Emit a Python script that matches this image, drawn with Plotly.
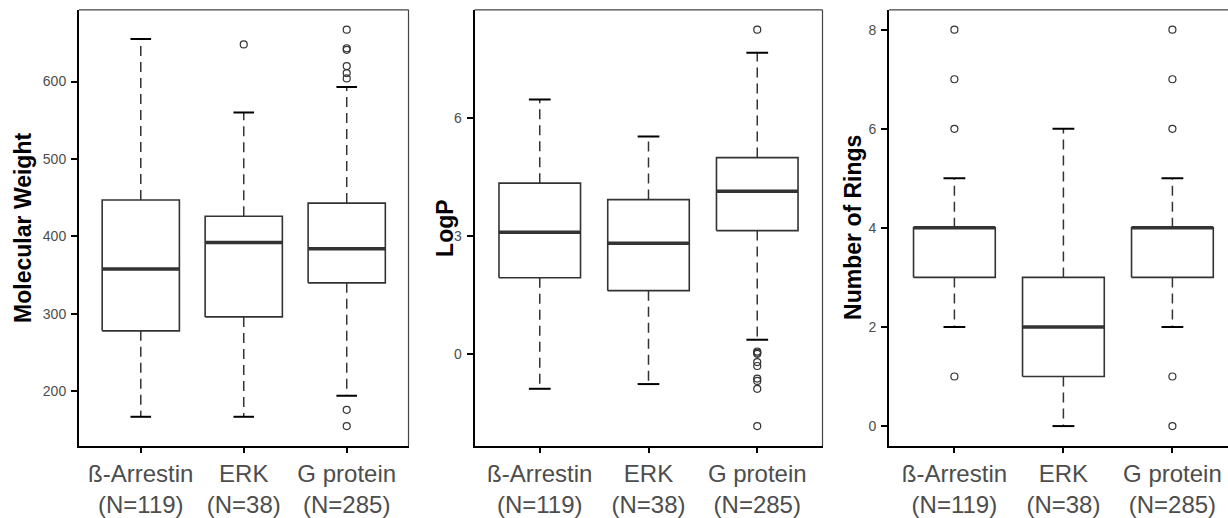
import plotly.graph_objects as go

# ---------------- data ----------------
categories = ["ß-Arrestin<br>(N=119)", "ERK<br>(N=38)", "G protein<br>(N=285)"]

mw_lower = [167, 167, 194]
mw_q1 = [278, 296, 340]
mw_median = [358, 392, 384]
mw_q3 = [447, 426, 443]
mw_upper = [655, 560, 593]
mw_outliers = [[], [648], [667, 643, 641, 620, 611, 604, 176, 155]]

logp_lower = [-0.89, -0.77, 0.36]
logp_q1 = [1.94, 1.61, 3.14]
logp_median = [3.10, 2.82, 4.14]
logp_q3 = [4.35, 3.93, 5.00]
logp_upper = [6.48, 5.54, 7.67]
logp_outliers = [[], [], [8.26, 0.06, 0.03, 0.0, -0.21, -0.31, -0.63, -0.69, -0.89, -1.84]]

rings_lower = [2, 0, 2]
rings_q1 = [3, 1, 3]
rings_median = [4, 2, 4]
rings_q3 = [4, 3, 4]
rings_upper = [5, 6, 5]
rings_outliers = [[1, 6, 7, 8], [], [0, 1, 6, 7, 8]]

mw_ticks = [200, 300, 400, 500, 600]
logp_ticks = [0, 3, 6]
rings_ticks = [0, 2, 4, 6, 8]

titles = ["Molecular Weight", "LogP", "Number of Rings"]

# ---------------- style ----------------
FONT = "Liberation Sans, Arial, sans-serif"
LINE = "#333333"
BOX_HALF = 0.375
CAP_HALF = 0.1
W, H = 1228, 518
PLOT_TOP, PLOT_BOTTOM = 10, 452

panels = [
    dict(lower=mw_lower, q1=mw_q1, med=mw_median, q3=mw_q3, upper=mw_upper,
         out=mw_outliers, ticks=mw_ticks, dom=(79, 408.5), xr=(-0.6, 2.6), title_x=23, right=True),
    dict(lower=logp_lower, q1=logp_q1, med=logp_median, q3=logp_q3, upper=logp_upper,
         out=logp_outliers, ticks=logp_ticks, dom=(474.5, 822.5), xr=(-0.6, 2.6), title_x=445, right=True),
    dict(lower=rings_lower, q1=rings_q1, med=rings_median, q3=rings_q3, upper=rings_upper,
         out=rings_outliers, ticks=rings_ticks, dom=(889, 1228), xr=(-0.6, 2.51), title_x=853, right=False),
]

fig = go.Figure()
shapes = []
annotations = []

for k, p in enumerate(panels):
    n = k + 1
    xa = "x" if n == 1 else f"x{n}"
    ya = "y" if n == 1 else f"y{n}"

    wx, wy, bx, by, mx, my, cx, cy, ox, oy = [], [], [], [], [], [], [], [], [], []
    for i in range(len(categories)):
        wx += [i, i, None, i, i, None]
        wy += [p["q3"][i], p["upper"][i], None, p["q1"][i], p["lower"][i], None]
        bx += [i - BOX_HALF, i + BOX_HALF, i + BOX_HALF, i - BOX_HALF, i - BOX_HALF, None]
        by += [p["q1"][i], p["q1"][i], p["q3"][i], p["q3"][i], p["q1"][i], None]
        mx += [i - BOX_HALF, i + BOX_HALF, None]
        my += [p["med"][i], p["med"][i], None]
        cx += [i - CAP_HALF, i + CAP_HALF, None, i - CAP_HALF, i + CAP_HALF, None]
        cy += [p["upper"][i], p["upper"][i], None, p["lower"][i], p["lower"][i], None]
        for v in p["out"][i]:
            ox.append(i)
            oy.append(v)

    common = dict(xaxis=xa, yaxis=ya, showlegend=False, hoverinfo="skip")
    fig.add_trace(go.Scatter(x=wx, y=wy, mode="lines",
                             line=dict(color=LINE, width=1.5, dash="10px,6px"), **common))
    fig.add_trace(go.Scatter(x=bx, y=by, mode="lines", fill="toself", fillcolor="white",
                             line=dict(color=LINE, width=1.6), **common))
    fig.add_trace(go.Scatter(x=mx, y=my, mode="lines",
                             line=dict(color=LINE, width=3.5), **common))
    fig.add_trace(go.Scatter(x=cx, y=cy, mode="lines",
                             line=dict(color="black", width=2), **common))
    fig.add_trace(go.Scatter(x=ox, y=oy, mode="markers",
                             marker=dict(symbol="circle-open", size=7, color=LINE,
                                         line=dict(width=1.2, color=LINE)), **common))

    allv = p["lower"] + p["upper"] + [v for o in p["out"] for v in o]
    lo, hi = min(allv), max(allv)
    pad = 0.05 * (hi - lo)

    xkey = "xaxis" if n == 1 else f"xaxis{n}"
    ykey = "yaxis" if n == 1 else f"yaxis{n}"
    fig.layout[xkey] = dict(
        domain=[p["dom"][0] / W, p["dom"][1] / W], anchor=ya,
        range=list(p["xr"]), tickvals=[0, 1, 2], ticktext=categories,
        ticks="outside", ticklen=5, tickwidth=1.5, tickcolor="black",
        showline=True, linecolor="black", linewidth=2,
        showgrid=False, zeroline=False,
        tickfont=dict(family=FONT, size=24, color="#4D4D4D"),
    )
    fig.layout[ykey] = dict(
        domain=[1 - PLOT_BOTTOM / H, 1 - PLOT_TOP / H], anchor=xa,
        range=[lo - pad, hi + pad], tickvals=p["ticks"],
        ticks="outside", ticklen=6, tickwidth=1.5, tickcolor="black",
        showline=True, linecolor="black", linewidth=2,
        showgrid=False, zeroline=False, ticklabelstandoff=2,
        tickfont=dict(family=FONT, size=14, color="#4D4D4D"),
    )

    shapes.append(dict(type="line", xref=f"{xa} domain", yref=f"{ya} domain",
                       x0=0, x1=1, y0=1, y1=1, line=dict(color="#444444", width=1.2)))
    if p["right"]:
        shapes.append(dict(type="line", xref=f"{xa} domain", yref=f"{ya} domain",
                           x0=1, x1=1, y0=0, y1=1, line=dict(color="#444444", width=1.2)))

    annotations.append(dict(text=titles[k], xref="paper", yref="paper",
                            x=p["title_x"] / W, y=1 - 231 / H, textangle=-90,
                            showarrow=False, xanchor="center", yanchor="middle",
                            font=dict(family=FONT, size=23, color="black", weight="bold")))

fig.update_layout(
    width=W, height=H,
    margin=dict(l=0, r=0, t=0, b=0),
    paper_bgcolor="white", plot_bgcolor="white",
    shapes=shapes, annotations=annotations,
    font=dict(family=FONT),
)

fig.write_html("out.html")
